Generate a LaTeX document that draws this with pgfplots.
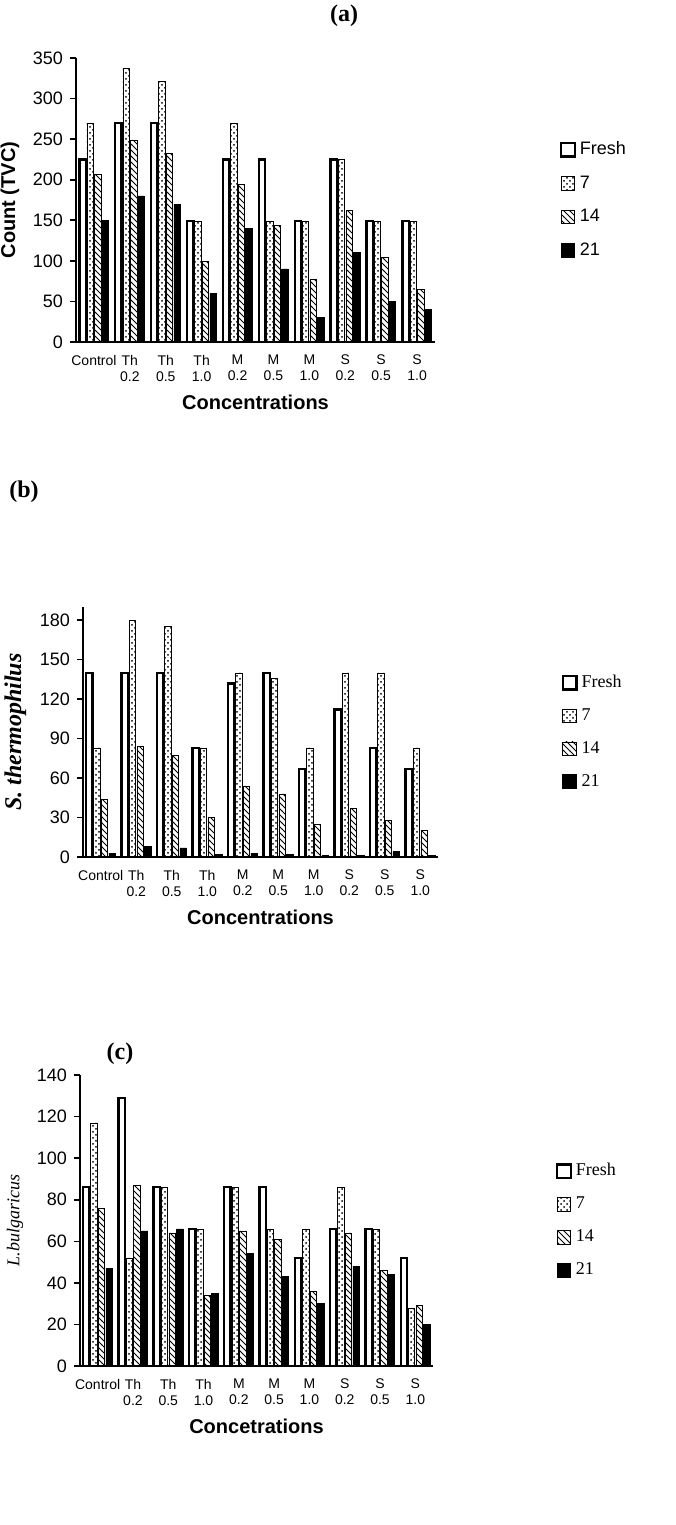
\documentclass[border=0pt]{standalone}
\usepackage{fontspec}
\setmainfont{Liberation Serif}
\setsansfont{Liberation Sans}
\usepackage{pgfplots}
\usepackage{pgfplotstable}
\pgfplotsset{compat=1.18}
\usetikzlibrary{patterns}

% columns: x Fresh D7 D14 D21
\pgfplotstableread{
x Fresh D7 D14 D21
0 225 270 207 150
1 270 337 249 180
2 270 321 232 170
3 149 149 99 60
4 225 270 194 140
5 225 149 144 90
6 149 149 77 30
7 225 225 162 110
8 149 149 104 50
9 149 149 65 40
}\tvc
\pgfplotstableread{
x Fresh D7 D14 D21
0 140 83 44 3
1 140 180 84 8
2 140 175 77 7
3 83 83 30 2
4 132 140 54 3
5 140 136 48 2
6 67 83 25 1
7 112 140 37 1
8 83 140 28 4
9 67 83 20 1
}\sth
\pgfplotstableread{
x Fresh D7 D14 D21
0 86 117 76 47
1 129 52 87 65
2 86 86 64 66
3 66 66 34 35
4 86 86 65 54
5 86 66 61 43
6 52 66 36 30
7 66 86 64 48
8 66 66 46 44
9 52 28 29 20
}\lbu

\pgfplotsset{
  panel/.style={
    scale only axis,
    ybar=0.6pt, bar width=3.2pt,
    xmin=-0.5, xmax=9.5,
    ymin=0,
    xtick=data,
    xticklabels={Control,{Th\\0.2},{Th\\0.5},{Th\\1.0},{M\\0.2},{M\\0.5},{M\\1.0},{S\\0.2},{S\\0.5},{S\\1.0}},
    xticklabel style={align=center, font=\sffamily\scriptsize},
    yticklabel style={font=\sffamily\small},
    /pgf/number format/assume math mode=true,
    axis x line=bottom, axis y line=left,
    axis line style={-, line width=1.4pt},
    tick style={black, line width=0.8pt},
    tick align=outside,
    major tick length=3pt,
    x tick style={draw=none},
    xlabel style={font=\sffamily\bfseries},
    area legend,
    legend cell align=left,
    legend image code/.code={\draw[#1] (0cm,-0.12cm) rectangle (0.24cm,0.12cm);},
    legend style={draw=none, fill=none, font=\small, row sep=5pt,
      at={(axis description cs:1.33,0.5)}, anchor=west},
  },
  fresh/.style={draw=black, line width=1.2pt, fill=white},
  d7/.style={draw=black, line width=0.3pt, pattern=crosshatch dots},
  d14/.style={draw=black, line width=0.3pt, pattern=north west lines},
  d21/.style={draw=black, line width=0.3pt, fill=black},
}

\begin{document}
\begin{tikzpicture}
\useasboundingbox (0,0) rectangle (337.5pt,-762.5pt);

\node[font=\bfseries\large] at (172pt,-8pt) {(a)};
\begin{axis}[panel, at={(38pt,-171pt)}, anchor=south west,
  width=179.5pt, height=142pt,
  ymax=350, ytick={0,50,...,350},
  ylabel={Count (TVC)}, ylabel style={font=\sffamily\bfseries},
  xlabel={Concentrations},
  legend style={font=\sffamily\small}]
\addplot[fresh] table[x=x,y=Fresh]{\tvc};
\addplot[d7] table[x=x,y=D7]{\tvc};
\addplot[d14] table[x=x,y=D14]{\tvc};
\addplot[d21] table[x=x,y=D21]{\tvc};
\legend{Fresh,7,14,21}
\end{axis}

\node[font=\bfseries\large] at (12pt,-246pt) {(b)};
\begin{axis}[panel, at={(41.5pt,-428.5pt)}, anchor=south west,
  width=177.5pt, height=125pt,
  ymax=190, ytick={0,30,...,180},
  ylabel={\textbf{\textit{S. thermophilus}}}, ylabel style={font=\large},
  xlabel={Concentrations}]
\addplot[fresh] table[x=x,y=Fresh]{\sth};
\addplot[d7] table[x=x,y=D7]{\sth};
\addplot[d14] table[x=x,y=D14]{\sth};
\addplot[d21] table[x=x,y=D21]{\sth};
\legend{Fresh,7,14,21}
\end{axis}

\node[font=\bfseries\large] at (60pt,-527pt) {(c)};
\begin{axis}[panel, at={(40pt,-683pt)}, anchor=south west,
  width=176.5pt, height=145.5pt,
  ymax=140, ytick={0,20,...,140},
  ylabel={\textit{L.bulgaricus}}, ylabel style={font=\small},
  xlabel={Concetrations}]
\addplot[fresh] table[x=x,y=Fresh]{\lbu};
\addplot[d7] table[x=x,y=D7]{\lbu};
\addplot[d14] table[x=x,y=D14]{\lbu};
\addplot[d21] table[x=x,y=D21]{\lbu};
\legend{Fresh,7,14,21}
\end{axis}
\end{tikzpicture}
\end{document}
